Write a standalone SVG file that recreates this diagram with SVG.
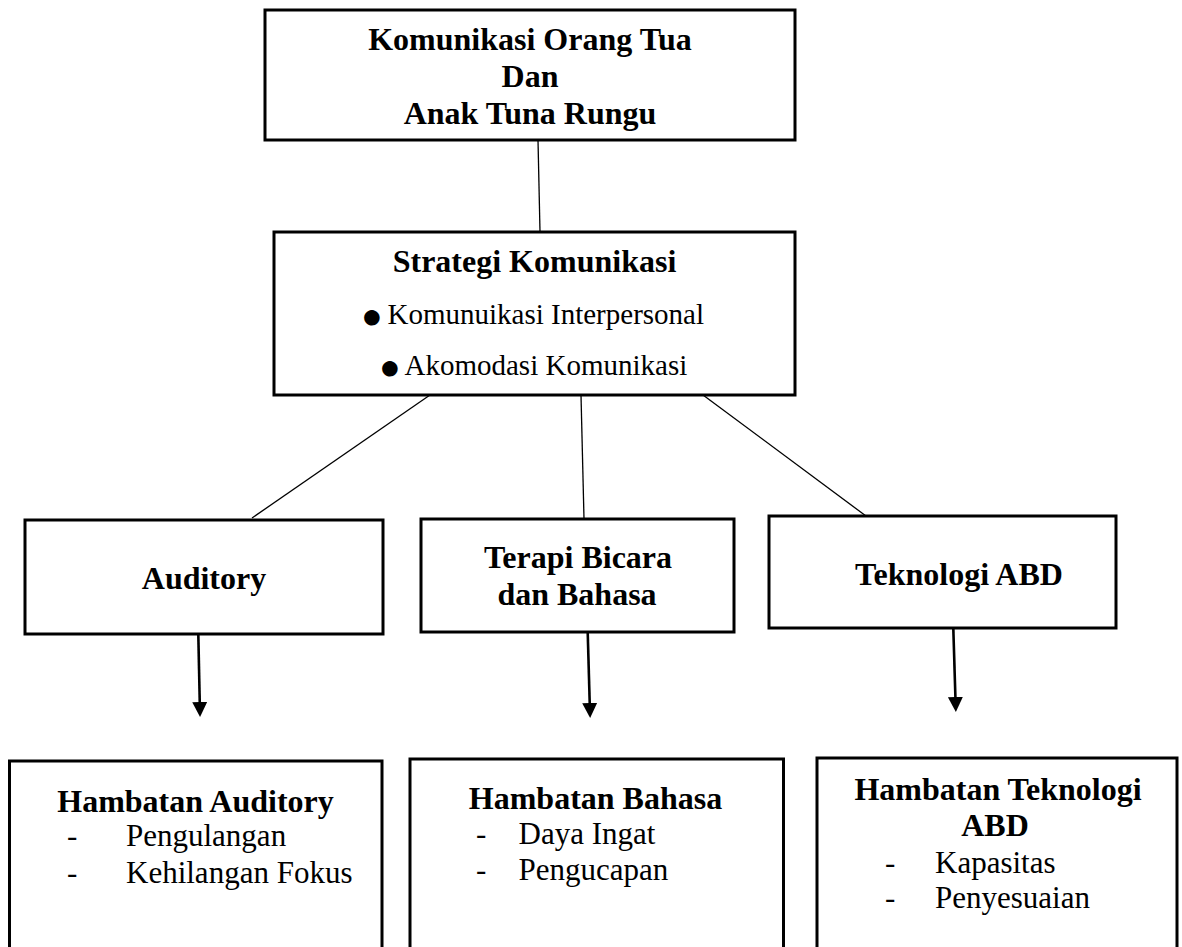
<svg xmlns="http://www.w3.org/2000/svg" width="1182" height="947" viewBox="0 0 1182 947">
  <style>
    .box { fill: #ffffff; stroke: #000000; stroke-width: 3; }
    .t { font-family: "Liberation Serif", "Times New Roman", serif; fill: #000000; }
    .b { font-weight: bold; font-size: 32px; text-anchor: middle; }
    .r { font-size: 29px; }
    .ri { font-size: 31px; }
    .bul { font-size: 36px; }
    .thin { stroke: #000000; stroke-width: 1.3; fill: none; }
    .arr { stroke: #000000; stroke-width: 2.6; fill: none; marker-end: url(#ah); }
  </style>
  <defs>
    <marker id="ah" markerUnits="userSpaceOnUse" markerWidth="16" markerHeight="16" refX="3" refY="7.5" orient="auto">
      <path d="M0,0 L15,7.5 L0,15 Z" fill="#000000"/>
    </marker>
  </defs>
  <rect width="1182" height="947" fill="#ffffff"/>

  <g id="connectors">
    <line class="thin" x1="538" y1="140" x2="540" y2="232"/>
    <line class="thin" x1="430" y1="395" x2="252" y2="518"/>
    <line class="thin" x1="581" y1="395" x2="584" y2="519"/>
    <line class="thin" x1="703" y1="395" x2="866" y2="516"/>
    <line class="arr" x1="198.3" y1="634" x2="199.8" y2="705"/>
    <line class="arr" x1="587.7" y1="632" x2="589.8" y2="706"/>
    <line class="arr" x1="953.3" y1="628" x2="955.5" y2="700"/>
  </g>

  <g id="node-top">
    <rect class="box" x="265" y="10" width="530" height="130"/>
    <text class="t b" x="530" y="50">Komunikasi Orang Tua</text>
    <text class="t b" x="530" y="87">Dan</text>
    <text class="t b" x="530" y="124">Anak Tuna Rungu</text>
  </g>

  <g id="node-strategi">
    <rect class="box" x="274" y="232" width="521" height="163"/>
    <text class="t b" x="534.5" y="272">Strategi Komunikasi</text>
    <text class="t"><tspan class="bul" x="361" y="328">●</tspan><tspan class="r" x="387.5" y="324">Komunuikasi Interpersonal</tspan></text>
    <text class="t"><tspan class="bul" x="379" y="379">●</tspan><tspan class="r" x="404.5" y="375">Akomodasi Komunikasi</tspan></text>
  </g>

  <g id="node-auditory">
    <rect class="box" x="25" y="520" width="358" height="114"/>
    <text class="t b" x="204" y="589">Auditory</text>
  </g>

  <g id="node-terapi">
    <rect class="box" x="421" y="519" width="313" height="113"/>
    <text class="t b" x="578" y="568">Terapi Bicara</text>
    <text class="t b" x="577" y="605">dan Bahasa</text>
  </g>

  <g id="node-teknologi">
    <rect class="box" x="769" y="516" width="347" height="112"/>
    <text class="t b" x="959" y="585">Teknologi ABD</text>
  </g>

  <g id="node-hambatan-auditory">
    <rect class="box" x="9.5" y="761" width="372.5" height="220"/>
    <text class="t b" x="195.5" y="812">Hambatan Auditory</text>
    <text class="t ri" x="67" y="846">-</text>
    <text class="t ri" x="126" y="846">Pengulangan</text>
    <text class="t ri" x="67" y="883">-</text>
    <text class="t ri" x="126" y="883">Kehilangan Fokus</text>
  </g>

  <g id="node-hambatan-bahasa">
    <rect class="box" x="410" y="759" width="373.5" height="220"/>
    <text class="t b" x="595.5" y="809">Hambatan Bahasa</text>
    <text class="t ri" x="476" y="844">-</text>
    <text class="t ri" x="518.5" y="844">Daya Ingat</text>
    <text class="t ri" x="476" y="880">-</text>
    <text class="t ri" x="518.5" y="880">Pengucapan</text>
  </g>

  <g id="node-hambatan-teknologi">
    <rect class="box" x="817" y="758" width="360" height="220"/>
    <text class="t b" x="998" y="800">Hambatan Teknologi</text>
    <text class="t b" x="995" y="836">ABD</text>
    <text class="t ri" x="885" y="873">-</text>
    <text class="t ri" x="935" y="873">Kapasitas</text>
    <text class="t ri" x="885" y="908">-</text>
    <text class="t ri" x="935" y="908">Penyesuaian</text>
  </g>
</svg>
